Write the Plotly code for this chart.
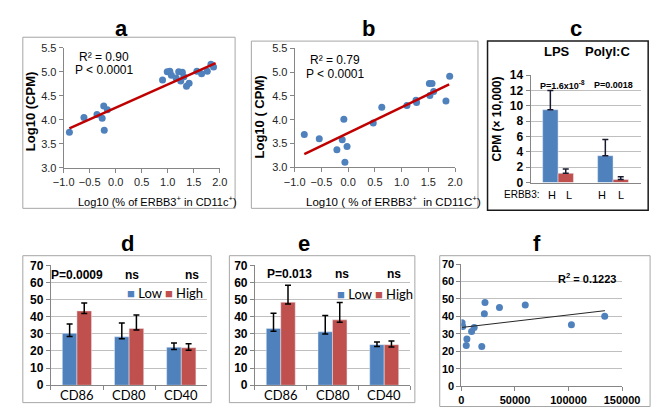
import plotly.graph_objects as go

W, H = 662, 420

# ---------------- data ----------------
# panel a
a_x = [-0.89, -0.61, -0.36, -0.26, -0.23, -0.16, -0.22, 0.90, 0.99, 1.04, 1.07, 1.16,
       1.21, 1.25, 1.28, 1.31, 1.36, 1.41, 1.56, 1.65, 1.76, 1.83, 1.88]
a_y = [3.74, 4.05, 4.11, 4.03, 4.29, 4.21, 3.78, 4.83, 5.00, 5.01, 4.93, 4.87,
       5.00, 4.81, 4.99, 4.90, 4.70, 4.76, 5.01, 4.96, 5.01, 5.16, 5.10]
a_fit_x = [-0.89, 1.92]
a_fit_y = [3.82, 5.18]

# panel b
b_x = [-0.82, -0.54, -0.21, -0.11, -0.08, -0.06, -0.02, 0.47, 0.63, 1.10, 1.27, 1.28,
       1.52, 1.57, 1.53, 1.60, 1.83, 1.90]
b_y = [3.69, 3.60, 3.37, 3.58, 4.01, 3.11, 3.44, 3.93, 4.26, 4.30, 4.41, 4.36,
       4.76, 4.76, 4.51, 4.59, 4.39, 4.91]
b_fit_x = [-0.82, 1.89]
b_fit_y = [3.28, 4.74]

# panel c
c_groups = ["LPS", "PolyI:C"]
c_high = [9.5, 3.5]
c_high_err = [2.5, 2.1]
c_low = [1.2, 0.4]
c_low_err = [0.55, 0.35]
c_tick_labels = ["H", "L", "H", "L"]

# panel d
cats = ["CD86", "CD80", "CD40"]
d_low = [30.3, 28.3, 22.2]
d_low_plus = [5.5, 8.0, 2.4]
d_low_minus = [1.8, 1.2, 1.4]
d_high = [43.4, 33.2, 21.9]
d_high_plus = [4.6, 7.8, 2.3]
d_high_minus = [1.5, 1.0, 1.4]

# panel e
e_low = [33.2, 31.2, 23.7]
e_low_plus = [8.8, 9.5, 1.5]
e_low_minus = [1.7, 1.3, 1.1]
e_high = [48.5, 38.2, 23.7]
e_high_plus = [9.9, 10.1, 2.2]
e_high_minus = [1.1, 1.4, 1.3]

# panel f
f_x = [600, 1200, 5100, 4500, 9500, 11900, 19000, 21400, 22000, 35500, 59600, 102700, 133800]
f_y = [36.4, 34.2, 27.0, 23.4, 31.4, 33.7, 22.8, 41.5, 48.0, 45.1, 46.6, 35.3, 40.1]
f_fit_x = [600, 134000]
f_fit_y = [33.7, 43.3]
f_yticks = [0, 10, 20, 30, 40, 50, 60, 70]

BLUE = "#4f81bd"
RED = "#c0504d"
DARKRED = "#c00000"
ARIAL = "Liberation Sans, Arial, sans-serif"
CAL = "Lato, Open Sans, sans-serif"


def px(x):
    return x / W


def py(y):
    return 1 - y / H


fig = go.Figure()

# ---------- traces ----------
fig.add_trace(go.Scatter(x=a_x, y=a_y, mode="markers", marker=dict(color=BLUE, size=7),
                         xaxis="x", yaxis="y", showlegend=False))
fig.add_trace(go.Scatter(x=a_fit_x, y=a_fit_y, mode="lines", line=dict(color=DARKRED, width=2.5),
                         xaxis="x", yaxis="y", showlegend=False))
fig.add_trace(go.Scatter(x=b_x, y=b_y, mode="markers", marker=dict(color=BLUE, size=7),
                         xaxis="x2", yaxis="y2", showlegend=False))
fig.add_trace(go.Scatter(x=b_fit_x, y=b_fit_y, mode="lines", line=dict(color=DARKRED, width=2.5),
                         xaxis="x2", yaxis="y2", showlegend=False))

fig.add_trace(go.Bar(x=c_groups, y=c_high, marker_color=BLUE, xaxis="x3", yaxis="y3", showlegend=False,
                     error_y=dict(type="data", array=c_high_err, arrayminus=[0, 0], symmetric=False,
                                  color="#1a1a2e", thickness=1.5, width=3)))
fig.add_trace(go.Bar(x=c_groups, y=c_low, marker_color=RED, xaxis="x3", yaxis="y3", showlegend=False,
                     error_y=dict(type="data", array=c_low_err, arrayminus=[0, 0], symmetric=False,
                                  color="#1a1a2e", thickness=1.5, width=3)))

for (lo, lop, lom, hi, hip, him, ax) in [
    (d_low, d_low_plus, d_low_minus, d_high, d_high_plus, d_high_minus, "4"),
    (e_low, e_low_plus, e_low_minus, e_high, e_high_plus, e_high_minus, "5"),
]:
    fig.add_trace(go.Bar(x=cats, y=lo, marker_color=BLUE, xaxis="x" + ax, yaxis="y" + ax, showlegend=False,
                         error_y=dict(type="data", array=lop, arrayminus=lom, symmetric=False,
                                      color="black", thickness=1.5, width=3)))
    fig.add_trace(go.Bar(x=cats, y=hi, marker_color=RED, xaxis="x" + ax, yaxis="y" + ax, showlegend=False,
                         error_y=dict(type="data", array=hip, arrayminus=him, symmetric=False,
                                      color="black", thickness=1.5, width=3)))

fig.add_trace(go.Scatter(x=f_x, y=f_y, mode="markers", marker=dict(color=BLUE, size=7),
                         xaxis="x6", yaxis="y6", showlegend=False))
fig.add_trace(go.Scatter(x=f_fit_x, y=f_fit_y, mode="lines", line=dict(color="#262626", width=1),
                         xaxis="x6", yaxis="y6", showlegend=False))

# ---------- axes ----------
sc_tick = dict(family=ARIAL, size=11, color="#262626")
common_sc = dict(showline=True, linecolor="#868686", linewidth=1, ticks="outside", tickcolor="#868686",
                 ticklen=4, showgrid=False, zeroline=False, tickfont=sc_tick, tickformat=".1f", dtick=0.5,
                 tickangle=0)

layout = dict(
    width=W, height=H, margin=dict(l=0, r=0, t=0, b=0),
    paper_bgcolor="white", plot_bgcolor="white",
    barmode="group", bargap=0.44, bargroupgap=0,
    showlegend=False,
)

layout["xaxis"] = dict(domain=[px(46.7), px(210)], anchor="y", range=[-1, 2], **common_sc)
layout["yaxis"] = dict(domain=[py(158), py(34)], anchor="x", range=[3, 5.5], **common_sc)
layout["xaxis2"] = dict(domain=[px(288.3), px(456)], anchor="y2", range=[-1, 2], **common_sc)
layout["yaxis2"] = dict(domain=[py(157.7), py(34.3)], anchor="x2", range=[3, 5.5], **common_sc)

bold11 = dict(family=ARIAL, size=11, color="black", weight="bold")
bold12 = dict(family=ARIAL, size=12, color="black", weight="bold")
layout["xaxis3"] = dict(domain=[px(535), px(650)], anchor="y3", showline=True, linecolor="#868686",
                        showticklabels=False, ticks="", showgrid=False)
layout["yaxis3"] = dict(domain=[py(173.3), py(62.3)], anchor="x3", range=[0, 14], dtick=2,
                        showline=True, linecolor="#868686", ticks="outside", ticklen=4, tickcolor="#868686",
                        showgrid=True, gridcolor="#bfbfbf", zeroline=False, tickfont=bold12)

for ax, (x0, x1) in [("4", (33.3, 197)), ("5", (246.7, 409))]:
    layout["xaxis" + ax] = dict(domain=[px(x0), px(x1)], anchor="y" + ax, showline=True, linecolor="#868686",
                                ticks="outside", tickson="boundaries", ticklen=4, tickcolor="#868686",
                                showgrid=False, showticklabels=False)
    layout["yaxis" + ax] = dict(domain=[py(383), py(259)], anchor="x" + ax, range=[0, 70], dtick=10,
                                showline=True, linecolor="#868686", ticks="outside", ticklen=4,
                                tickcolor="#868686", showgrid=True, gridcolor="#bfbfbf", zeroline=False,
                                tickfont=bold12)

layout["xaxis6"] = dict(domain=[px(462.7), px(630.7)], anchor="y6", range=[0, 150000], dtick=50000,
                        showline=True, linecolor="#868686", ticks="outside", ticklen=4, tickcolor="#868686",
                        showgrid=False, zeroline=False, tickfont=bold11, tickformat="d")
layout["yaxis6"] = dict(domain=[py(384), py(257.7)], anchor="x6", range=[0, 70],
                        tickmode="array", tickvals=f_yticks, ticktext=[str(v) for v in f_yticks],
                        showline=True, linecolor="#868686", ticks="outside", ticklen=4, tickcolor="#868686",
                        showgrid=True, gridcolor="#bfbfbf", zeroline=False, tickfont=bold11,
                        showticklabels=True, ticklabeloverflow="allow", automargin=False)

# ---------- borders ----------
shapes = []


def box(x0, y0, x1, y1, color="#a6a6a6", w=1):
    shapes.append(dict(type="rect", xref="paper", yref="paper", x0=px(x0), x1=px(x1), y0=py(y1), y1=py(y0),
                       line=dict(color=color, width=w), fillcolor="rgba(0,0,0,0)", layer="below"))


box(4, 23, 226, 200)
box(243, 27, 480, 200)
box(490, 27, 658, 202, color="#1a1a1a", w=1.5)
box(4, 249, 201, 401)
box(220, 249, 414, 401)
box(440, 249, 660, 405)
layout["shapes"] = shapes

# ---------- annotations ----------
ann = []


def text(x, y, s, size=11, bold=False, family=ARIAL, color="black", angle=0, xanchor="center"):
    ann.append(dict(xref="paper", yref="paper", x=px(x), y=py(y), text=s, showarrow=False,
                    xanchor=xanchor, yanchor="middle", textangle=angle,
                    font=dict(family=family, size=size, color=color, weight="bold" if bold else "normal")))


# panel letters
for lx, ly, s in [(107, 14, "a"), (366, 14, "b"), (583, 14, "c"),
                  (113, 236, "d"), (298, 236, "e"), (542, 236, "f")]:
    text(lx, ly, s, size=22, bold=True)

# panel a
text(89, 43, "R² = 0.90", size=12)
text(89, 57, "P < 0.0001", size=12)
text(12, 100, "Log10 (CPM)", size=13, bold=True, angle=-90)
text(145, 192, "Log10 (% of ERBB3<sup>+</sup> in CD11c<sup>+</sup>)", size=11)

# panel b
text(330, 47, "R² = 0.79", size=12)
text(330, 61, "P < 0.0001", size=12)
text(252, 105, "Log10 ( CPM)", size=13, bold=True, angle=-90)
text(392, 192, "Log10 ( % of ERBB3<sup>+</sup>  in CD11C<sup>+</sup>)", size=11.5)

# panel c
text(563, 38, "LPS", size=13, bold=True)
text(615, 38, "PolyI:C", size=13, bold=True)
text(568, 72, "P=1.6x10<sup>-8</sup>", size=9, bold=True)
text(622, 72, "P=0.0018", size=9, bold=True)
text(500, 108, "CPM (× 10,000)", size=12, bold=True, angle=-90)
text(526, 186, "ERBB3:", size=10)
for hx, s in zip([557, 575, 610, 630], c_tick_labels):
    text(hx, 186, s, size=11)

# panel d / e category labels
for cx, s in zip([60.6, 115.2, 169.8], cats):
    text(cx, 393, s, size=13, family=CAL)
for cx, s in zip([273.8, 328, 382], cats):
    text(cx, 393, s, size=13, family=CAL)

# panel d
text(61, 269, "P=0.0009", size=12, bold=True)
text(118, 269, "ns", size=12, bold=True)
text(181, 269, "ns", size=12, bold=True)
legend_txt = (f'<span style="color:{BLUE}">■</span> Low <span style="color:{RED}">■</span> High')
text(153, 288, legend_txt, size=13, family=CAL)

# panel e
text(283, 268, "P=0.013", size=12, bold=True)
text(338, 268, "ns", size=12, bold=True)
text(392, 268, "ns", size=12, bold=True)
text(372, 289, legend_txt, size=13, family=CAL)

# panel f
text(594, 272, "R<sup>2</sup> = 0.1223", size=11, bold=True)

layout["annotations"] = ann
fig.update_layout(**layout)
fig.write_html("out.html")
